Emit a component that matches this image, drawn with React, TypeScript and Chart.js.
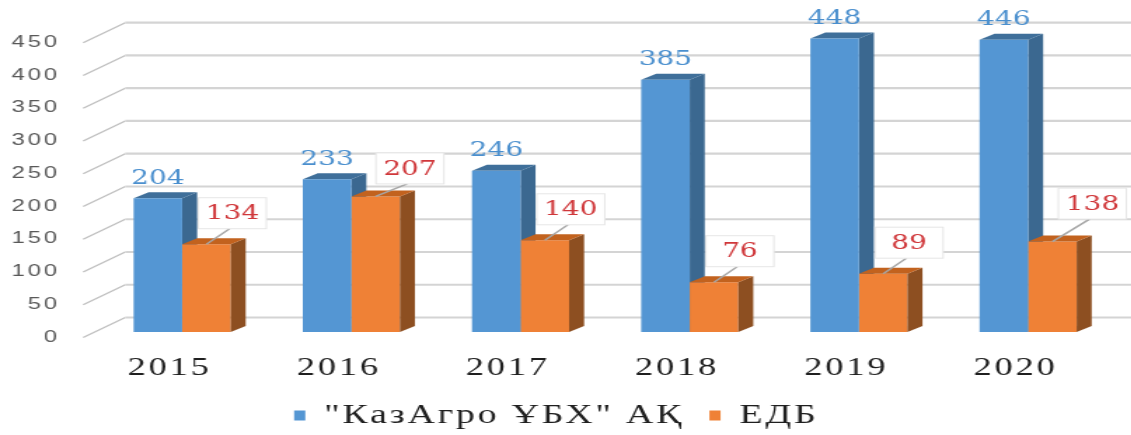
import React, { useEffect, useRef } from 'react';
import { Chart, registerables } from 'chart.js';

Chart.register(...registerables);

// ---- data ----
const years = ['2015', '2016', '2017', '2018', '2019', '2020'];
const kazAgroValues = [204, 233, 246, 385, 448, 446];
const edbValues = [134, 207, 140, 76, 89, 138];
const seriesNames = ['"КазАгро ҰБХ" АҚ', 'ЕДБ'];
const yTickValues = [0, 50, 100, 150, 200, 250, 300, 350, 400, 450];

// ---- style ----
const STRETCH = 1.4; // the reference picture is widened horizontally
const W = 1131 / STRETCH;
const H = 435;
const BLUE = '#5496d3';
const BLUE_SIDE = '#3b6890';
const BLUE_TOP = '#3f6f9a';
const ORANGE = '#ef8136';
const ORANGE_SIDE = '#8d4f21';
const ORANGE_TOP = '#c2621e';
const DEPTH_X = 10.7;
const DEPTH_Y = -6;
const AXIS_LETTER_SPACING = '2px';
const redLabelShift = [[0, 0], [6, 3], [0, 0], [0, 0], [0, 0], [10, -7]];

function drawFaces(ctx: CanvasRenderingContext2D, bar: any, side: string, top: string) {
  const p = bar.getProps(['x', 'y', 'base', 'width'], true);
  const l = p.x - p.width / 2;
  const r = p.x + p.width / 2;
  ctx.fillStyle = side;
  ctx.beginPath();
  ctx.moveTo(r, p.y);
  ctx.lineTo(r + DEPTH_X, p.y + DEPTH_Y);
  ctx.lineTo(r + DEPTH_X, p.base + DEPTH_Y);
  ctx.lineTo(r, p.base);
  ctx.closePath();
  ctx.fill();
  ctx.fillStyle = top;
  ctx.beginPath();
  ctx.moveTo(l, p.y);
  ctx.lineTo(l + DEPTH_X, p.y + DEPTH_Y);
  ctx.lineTo(r + DEPTH_X, p.y + DEPTH_Y);
  ctx.lineTo(r, p.y);
  ctx.closePath();
  ctx.fill();
}

const spacing = {
  id: 'spacing',
  beforeUpdate(chart: any) {
    (chart.ctx as any).letterSpacing = AXIS_LETTER_SPACING;
  },
  beforeDraw(chart: any) {
    (chart.ctx as any).letterSpacing = AXIS_LETTER_SPACING;
  },
};

const bars3d = {
  id: 'bars3d',
  beforeDatasetsDraw(chart: any) {
    const ctx: CanvasRenderingContext2D = chart.ctx;
    (ctx as any).letterSpacing = '0px';
    const ys = chart.scales.y;
    const area = chart.chartArea;
    const wallX = area.left + 19.7;
    const frontX = area.left - 10.3;
    ctx.save();
    yTickValues.forEach((v) => {
      const py = ys.getPixelForValue(v);
      ctx.strokeStyle = '#bfbfbf';
      ctx.lineWidth = 1.3;
      ctx.beginPath();
      ctx.moveTo(frontX, py + 5.5);
      ctx.lineTo(wallX, py - 14.5);
      ctx.stroke();
      ctx.strokeStyle = '#d4d4d4';
      ctx.lineWidth = 2.2;
      ctx.beginPath();
      ctx.moveTo(wallX, py - 14.5);
      ctx.lineTo(chart.width, py - 14.5);
      ctx.stroke();
    });
    const meta0 = chart.getDatasetMeta(0);
    meta0.data.forEach((bar: any) => drawFaces(ctx, bar, BLUE_SIDE, BLUE_TOP));
    ctx.restore();
  },
  afterDatasetsDraw(chart: any) {
    const ctx: CanvasRenderingContext2D = chart.ctx;
    ctx.save();
    (ctx as any).letterSpacing = '0px';
    const meta1 = chart.getDatasetMeta(1);
    meta1.data.forEach((bar: any) => drawFaces(ctx, bar, ORANGE_SIDE, ORANGE_TOP));

    ctx.textAlign = 'center';
    ctx.textBaseline = 'middle';
    ctx.font = '20px "DejaVu Serif"';
    const meta0 = chart.getDatasetMeta(0);
    meta0.data.forEach((bar: any, i: number) => {
      const p = bar.getProps(['x', 'y'], true);
      ctx.fillStyle = '#4a8fce';
      ctx.fillText(String(kazAgroValues[i]), p.x, p.y - 20);
    });
    meta1.data.forEach((bar: any, i: number) => {
      const p = bar.getProps(['x', 'y'], true);
      const cx = p.x + 18.5 + redLabelShift[i][0];
      const cy = p.y - 31 + redLabelShift[i][1];
      const bw = 48.5;
      const bh = 31;
      ctx.strokeStyle = '#a6a6a6';
      ctx.lineWidth = 1.5;
      ctx.beginPath();
      ctx.moveTo(p.x, p.y);
      ctx.lineTo(cx - 2, cy + bh / 2);
      ctx.stroke();
      ctx.fillStyle = '#ffffff';
      ctx.fillRect(cx - bw / 2, cy - bh / 2, bw, bh);
      ctx.strokeStyle = '#e6e6e6';
      ctx.lineWidth = 1;
      ctx.strokeRect(cx - bw / 2, cy - bh / 2, bw, bh);
      ctx.fillStyle = '#d0373a';
      ctx.fillText(String(edbValues[i]), cx, cy + 1);
    });
    ctx.restore();
  },
};

export default function App() {
  const ref = useRef<HTMLCanvasElement>(null);
  useEffect(() => {
    document.body.style.margin = '0';
    const chart = new Chart(ref.current as HTMLCanvasElement, {
      type: 'bar',
      data: {
        labels: years,
        datasets: [
          { label: seriesNames[0], data: kazAgroValues, backgroundColor: BLUE, borderWidth: 0 },
          { label: seriesNames[1], data: edbValues, backgroundColor: ORANGE, borderWidth: 0 },
        ],
      },
      options: {
        animation: false,
        responsive: true,
        maintainAspectRatio: false,
        layout: { padding: { top: 32, right: 14, bottom: -4, left: 0 } },
        datasets: { bar: { categoryPercentage: 0.574, barPercentage: 1 } },
        scales: {
          x: {
            grid: { display: false, drawTicks: false },
            border: { display: false },
            ticks: {
              color: '#1f1f1f',
              padding: 20.4,
              labelOffset: -9,
              font: { family: '"Liberation Serif"', size: 26 },
            },
            afterFit: (s: any) => {
              s.height = 52;
            },
          },
          y: {
            min: 0,
            max: 450,
            grid: { display: false, drawTicks: false },
            border: { display: false },
            ticks: {
              stepSize: 50,
              color: '#595959',
              padding: 27,
              labelOffset: 5,
              font: { family: '"Liberation Sans"', size: 17 },
            },
            afterFit: (s: any) => {
              s.width = 69.6;
            },
          },
        },
        plugins: {
          legend: {
            position: 'bottom',
            labels: {
              color: '#1f1f1f',
              boxWidth: 8,
              boxHeight: 10,
              padding: 18,
              font: { family: '"Liberation Serif"', size: 27 },
            },
          },
          tooltip: { enabled: false },
        },
      },
      plugins: [spacing, bars3d],
    } as any);
    return () => chart.destroy();
  }, []);
  return (
    <div style={{ width: 1131, height: H, overflow: 'hidden', background: '#ffffff' }}>
      <div style={{ width: W, height: H, transform: `scaleX(${STRETCH})`, transformOrigin: '0 0' }}>
        <canvas ref={ref} />
      </div>
    </div>
  );
}
